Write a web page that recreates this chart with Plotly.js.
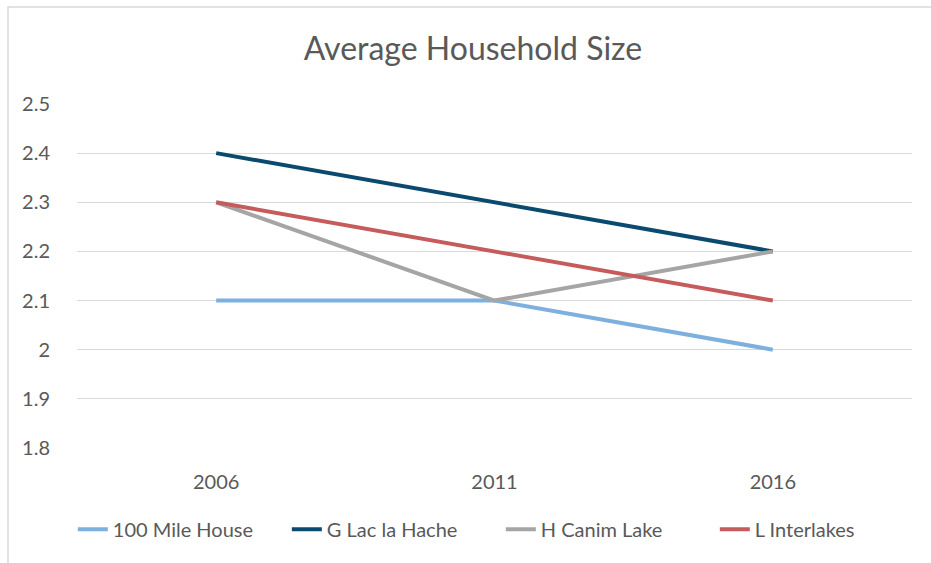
<!DOCTYPE html>
<html>
<head>
<meta charset="utf-8">
<script src="https://cdn.plot.ly/plotly-3.0.1.min.js"></script>
<style>html,body{margin:0;padding:0;background:#fff;}#chart{width:931px;height:563px;}</style>
</head>
<body>
<div id="chart"></div>
<script>
const years = ['2006', '2011', '2016'];
const seriesNames = ['100 Mile House', 'G Lac la Hache', 'H Canim Lake', 'L Interlakes'];
const mileHouse = [2.1, 2.1, 2.0];
const lacLaHache = [2.4, 2.3, 2.2];
const canimLake = [2.3, 2.1, 2.2];
const interlakes = [2.3, 2.2, 2.1];
const yTicks = [1.8, 1.9, 2.0, 2.1, 2.2, 2.3, 2.4, 2.5];
const yTickText = ['1.8', '1.9', '2', '2.1', '2.2', '2.3', '2.4', '2.5'];

const colors = ['#7EB0DD', '#0A4A6E', '#A5A5A5', '#C55B5B'];
const values = [mileHouse, lacLaHache, canimLake, interlakes];

const traces = values.map((v, i) => ({
  type: 'scatter', mode: 'lines', x: years, y: v, name: seriesNames[i],
  line: {color: colors[i], width: 4}, hoverinfo: 'skip'
}));

const font = 'Lato, "Open Sans", sans-serif';
const layout = {
  width: 931, height: 563,
  margin: {l: 77, r: 19, t: 104, b: 115},
  paper_bgcolor: '#fff', plot_bgcolor: '#fff',
  font: {family: font, color: '#595959', size: 20},
  title: {text: 'Average Household Size', font: {family: font, size: 32, color: '#595959'},
          x: 0.508, xanchor: 'center', y: 0.913, yanchor: 'middle'},
  xaxis: {type: 'category', range: [-0.5, 2.5], showgrid: false, zeroline: false,
          showline: false, ticks: 'outside', ticklen: 16, tickcolor: 'rgba(0,0,0,0)',
          tickfont: {size: 20, color: '#595959'}, fixedrange: true},
  yaxis: {range: [1.8, 2.5], tickvals: yTicks, ticktext: yTickText, showgrid: true,
          gridcolor: '#D9D9D9', gridwidth: 1, zeroline: false, showline: false,
          ticks: 'outside', ticklen: 22, tickcolor: 'rgba(0,0,0,0)',
          tickfont: {size: 20, color: '#595959'}, fixedrange: true},
  showlegend: true,
  legend: {orientation: 'h', x: -0.005, xanchor: 'left', y: -0.236, yanchor: 'middle',
           entrywidth: 169, entrywidthmode: 'pixels',
           font: {size: 20, color: '#595959'}, bgcolor: 'rgba(0,0,0,0)'},
  shapes: [{type: 'rect', xref: 'paper', yref: 'paper',
            x0: (8 - 77) / 835, x1: (940 - 77) / 835,
            y0: (448 - 570) / 344, y1: (448 - 7) / 344,
            line: {color: '#D9D9D9', width: 1.5}, fillcolor: 'rgba(0,0,0,0)', layer: 'below'}]
};

Plotly.newPlot('chart', traces, layout, {displayModeBar: false, staticPlot: true});
</script>
</body>
</html>
